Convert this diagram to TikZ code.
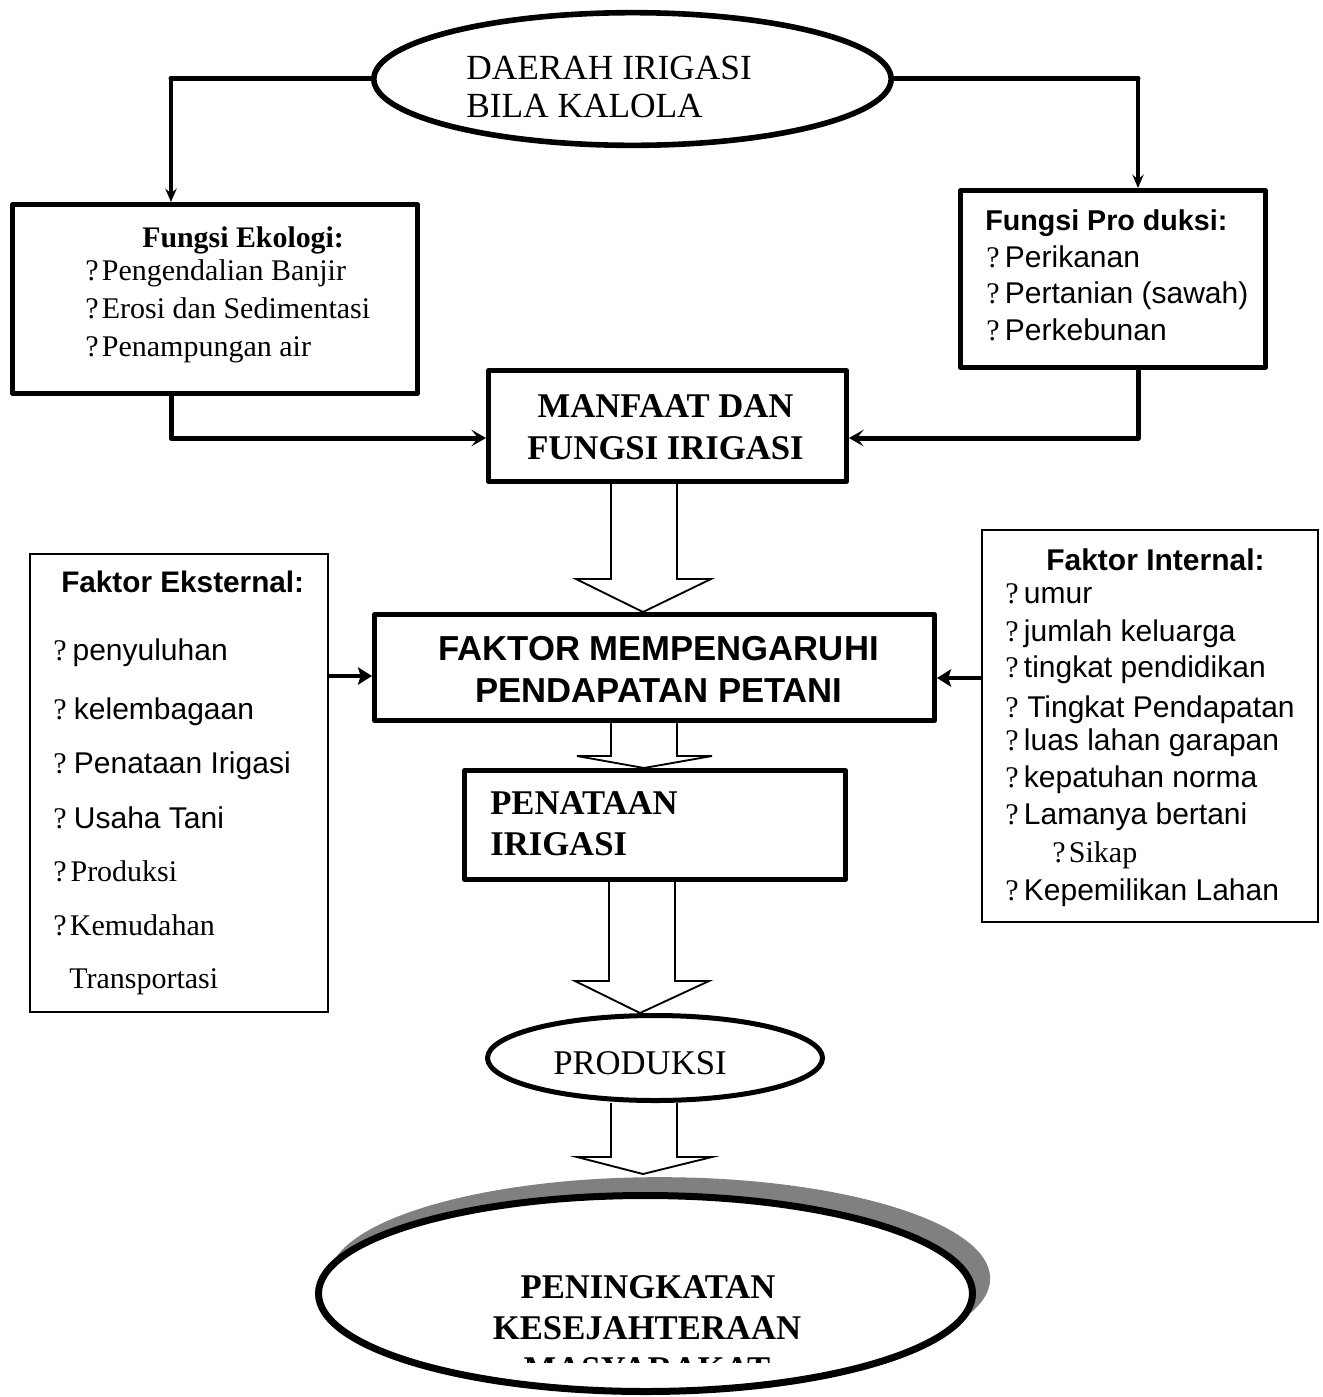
\documentclass[tikz,border=0pt]{standalone}
\usepackage{fontspec}
\setmainfont{Liberation Serif}
\newfontfamily\arialf{Liberation Sans}
\usetikzlibrary{arrows.meta,shapes.geometric}
\newcommand\blockarr[8]{%
  \draw[barrow] (#3,0 |- #1) -- (#3,#8) -- (#5,#8) -- (#7,0 |- #2) -- (#6,#8) -- (#4,#8) -- (#4,0 |- #1);}
\begin{document}
\begin{tikzpicture}[x=0.75pt,y=-0.75pt,
  thickbox/.style={draw,line width=3.75pt,line join=round,inner sep=0pt,rectangle},
  thinbox/.style={draw,line width=1.5pt,inner sep=0pt,rectangle},
  txt/.style={inner sep=0pt,anchor=base west},
  ctxt/.style={inner sep=0pt,anchor=base},
  body/.style={font=\fontsize{22.5}{27}\selectfont},
  sbody/.style={font=\arialf\fontsize{22.3}{27}\selectfont},
  big/.style={font=\fontsize{26}{30}\selectfont},
  bigb/.style={font=\bfseries\fontsize{26}{30}\selectfont},
  hconn/.style={line width=3.75pt,line cap=round},
  vconn/.style={line width=2.6pt,-{Stealth[length=10pt,width=8.5pt,inset=3.5pt]}},
  conn/.style={line width=3.75pt,line cap=round,line join=round,-{Stealth[length=11pt,width=12.5pt,inset=5pt]}},
  sideconn/.style={line width=3pt,-{Stealth[length=10.5pt,width=13pt,inset=2pt]}},
  barrow/.style={draw,line width=1.4pt,line join=miter}]
\useasboundingbox (0,0) rectangle (1322,1397);
\fill[white] (0,0) rectangle (1322,1397);

% ---------- top ellipse ----------
\node[thickbox,ellipse,line width=4.2pt,minimum width=388pt,minimum height=99.5pt] (top) at (632.5,79) {};
\node[txt,font=\fontsize{26.5}{30}\selectfont] (topa) at (466,79) {DAERAH IRIGASI};
\node[txt,font=\fontsize{26.5}{30}\selectfont] (topb) at (466,117) {BILA KALOLA};

% ---------- Fungsi Ekologi ----------
\node[thickbox,minimum width=303.75pt,minimum height=141.75pt] (eko) at (215,299) {};
\node[txt,font=\bfseries\fontsize{22.4}{27}\selectfont] (ekot) at (142,247) {Fungsi Ekologi:};
\node[txt,body] (eko1) at (85,280) {?\hspace{2.5pt}Pengendalian Banjir};
\node[txt,body] (eko2) at (85,318) {?\hspace{2.5pt}Erosi dan Sedimentasi};
\node[txt,body] (eko3) at (85,356) {?\hspace{2.5pt}Penampungan air};

% ---------- Fungsi Produksi ----------
\node[thickbox,minimum width=228.75pt,minimum height=132.75pt] (prod) at (1113,279) {};
\node[txt,font=\arialf\bfseries\fontsize{21.5}{26}\selectfont] (prodt) at (985,230) {Fungsi Pro duksi:};
\node[txt,body] (prod1) at (986,267) {?\hspace{4pt}{\arialf Perikanan}};
\node[txt,body] (prod2) at (986,303) {?\hspace{4pt}{\arialf Pertanian (sawah)}};
\node[txt,body] (prod3) at (986,340) {?\hspace{4pt}{\arialf Perkebunan}};

% ---------- Manfaat ----------
\node[thickbox,minimum width=268.5pt,minimum height=83.25pt] (man) at (667.5,426) {};
\node[ctxt,bigb] (mana) at (665.5,417) {MANFAAT DAN};
\node[ctxt,bigb] (manb) at (665.5,459) {FUNGSI IRIGASI};

% ---------- Faktor ----------
\node[thickbox,minimum width=420pt,minimum height=79.5pt] (fak) at (654.5,667.5) {};
\node[ctxt,font=\arialf\bfseries\fontsize{26}{30}\selectfont] (faka) at (658.5,660) {FAKTOR MEMPENGARUHI};
\node[ctxt,font=\arialf\bfseries\fontsize{26}{30}\selectfont] (fakb) at (659,702) {PENDAPATAN PETANI};

% ---------- Penataan ----------
\node[thickbox,minimum width=285.75pt,minimum height=81.75pt] (pen) at (655,825) {};
\node[txt,bigb] (pena) at (490,814) {PENATAAN};
\node[txt,bigb] (penb) at (490,855) {IRIGASI};

% ---------- Produksi ellipse ----------
\node[thickbox,ellipse,minimum width=251.25pt,minimum height=63.75pt] (prodE) at (655,1058) {};
\node[txt,big] (prodEt) at (553,1074) {PRODUKSI};

% ---------- big ellipse ----------
\node[ellipse,fill={rgb,255:red,128;green,128;blue,128},inner sep=0pt,minimum width=496pt,minimum height=152pt] (shadow) at (659.5,1278.5) {};
\node[ellipse,draw,fill=white,line width=5.25pt,inner sep=0pt,minimum width=490.5pt,minimum height=147pt] (kes) at (645.5,1293.5) {};
\node[ctxt,bigb] (kesa) at (648,1298) {PENINGKATAN};
\node[ctxt,bigb] (kesb) at (647,1339) {KESEJAHTERAAN};
\begin{scope}
  \clip (300,1340) rectangle (1000,1362);
  \node[ctxt,bigb] (kesc) at (647,1380) {MASYARAKAT};
\end{scope}

% ---------- Faktor Eksternal ----------
\node[thinbox,minimum width=223.5pt,minimum height=343.5pt] (ext) at (179,783) {};
\node[txt,font=\arialf\bfseries\fontsize{22.3}{27}\selectfont] (extt) at (61,592) {Faktor Eksternal:};
\node[txt,body] (ext1) at (53,660) {?\hspace{4.5pt}{\arialf penyuluhan}};
\node[txt,body] (ext2) at (53,719) {?\hspace{5.5pt}{\arialf kelembagaan}};
\node[txt,body] (ext3) at (53,773) {?\hspace{5.5pt}{\arialf Penataan Irigasi}};
\node[txt,body] (ext4) at (53,828) {?\hspace{5.5pt}{\arialf Usaha Tani}};
\node[txt,body] (ext5) at (53,881) {?\hspace{3pt}Produksi};
\node[txt,body] (ext6) at (53,935) {?\hspace{2.5pt}Kemudahan};
\node[txt,body] (ext7) at (69,988) {Transportasi};

% ---------- Faktor Internal ----------
\node[thinbox,minimum width=252pt,minimum height=294pt] (int) at (1150,726) {};
\node[txt,font=\arialf\bfseries\fontsize{22.5}{27}\selectfont] (intt) at (1046,570) {Faktor Internal:};
\node[txt,body] (int1) at (1005,603) {?\hspace{4pt}{\arialf umur}};
\node[txt,body] (int2) at (1005,641) {?\hspace{4pt}{\arialf jumlah keluarga}};
\node[txt,body] (int3) at (1005,677) {?\hspace{4pt}{\arialf tingkat pendidikan}};
\node[txt,body] (int4) at (1005,717) {?\hspace{6.5pt}{\arialf Tingkat Pendapatan}};
\node[txt,body] (int5) at (1005,750) {?\hspace{4pt}{\arialf luas lahan garapan}};
\node[txt,body] (int6) at (1005,787) {?\hspace{4pt}{\arialf kepatuhan norma}};
\node[txt,body] (int7) at (1005,824) {?\hspace{4pt}{\arialf Lamanya bertani}};
\node[txt,body] (int8) at (1052,862) {?\hspace{2.5pt}Sikap};
\node[txt,body] (int9) at (1005,900) {?\hspace{4pt}{\arialf Kepemilikan Lahan}};

% ---------- connectors ----------
\coordinate (tl) at (171,78);
\coordinate (tr) at (1138,78);
\draw[hconn] (top.west |- tl) -- (tl);
\draw[hconn] (top.east |- tr) -- (tr);
\draw[vconn] (tl) -- (tl |- eko.north);
\draw[vconn] (tr) -- (tr |- prod.north);

\coordinate (bl) at (171,438);
\coordinate (br) at (1138,438);
\draw[conn] (bl |- eko.south) -- (bl) -- (man.west |- bl);
\draw[conn] (br |- prod.south) -- (br) -- (man.east |- br);

\coordinate (ae) at (0,676);
\coordinate (ai) at (0,678);
\draw[sideconn] (ext.east |- ae) -- (fak.west |- ae);
\draw[sideconn] (int.west |- ai) -- (fak.east |- ai);

\coordinate (tip4) at (643,1174);
\blockarr{man.south}{fak.north}{611}{677}{576}{711}{643}{579}
\blockarr{fak.south}{pen.north}{611}{677}{577}{712}{644}{756}
\blockarr{pen.south}{prodE.north}{609}{675}{575}{709}{640}{981}
\blockarr{prodE.south}{tip4}{611}{677}{577}{712}{643}{1157}
\end{tikzpicture}
\end{document}
